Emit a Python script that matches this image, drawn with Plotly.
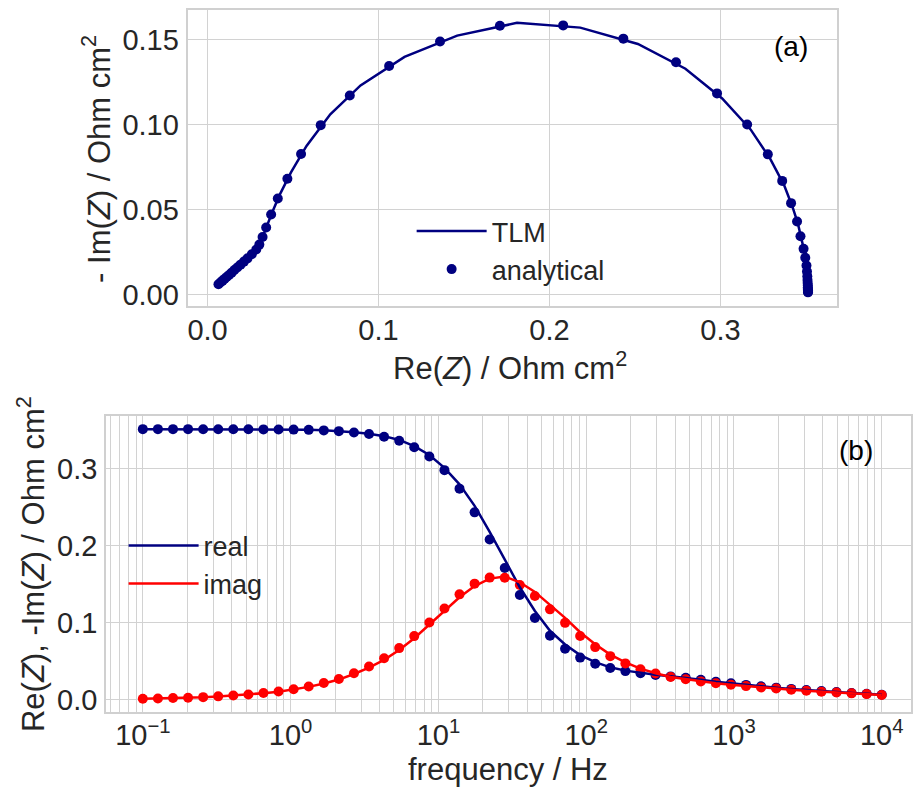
import plotly.graph_objects as go

# ---------------- data ----------------
freq = [0.1, 0.1265, 0.16, 0.2024, 0.256, 0.3237, 0.4095, 0.518, 0.6551, 0.8286,
        1.048, 1.326, 1.677, 2.121, 2.683, 3.393, 4.292, 5.429, 6.866, 8.685,
        10.99, 13.90, 17.58, 22.23, 28.12, 35.56, 44.98, 56.90, 71.97, 91.03,
        115.1, 145.6, 184.2, 233.0, 294.7, 372.8, 471.5, 596.4, 754.3, 954.1,
        1207, 1526, 1931, 2442, 3089, 3907, 4942, 6251, 7906, 10000]

# analytical solution (markers)
re_analytical = [0.3512, 0.3512, 0.3512, 0.3512, 0.3511, 0.3511, 0.3511, 0.3510, 0.3509, 0.3508,
                 0.3506, 0.3503, 0.3496, 0.3486, 0.3468, 0.3448, 0.3413, 0.3361, 0.3277, 0.3156,
                 0.2980, 0.2740, 0.2432, 0.2080, 0.1710, 0.1360, 0.1062, 0.0832, 0.0662, 0.0547,
                 0.0467, 0.0411, 0.0372, 0.0343, 0.0322, 0.0303, 0.0285, 0.0259, 0.0234, 0.0213,
                 0.0193, 0.0174, 0.0157, 0.0141, 0.0126, 0.0112, 0.0099, 0.0088, 0.0077, 0.0064]
im_analytical = [0.0014, 0.0017, 0.0022, 0.0027, 0.0034, 0.0044, 0.0055, 0.0069, 0.0087, 0.0108,
                 0.0137, 0.0172, 0.0218, 0.0270, 0.0344, 0.0431, 0.0539, 0.0670, 0.0826, 0.1002,
                 0.1185, 0.1368, 0.1507, 0.1585, 0.1583, 0.1490, 0.1346, 0.1173, 0.0998, 0.0828,
                 0.0683, 0.0566, 0.0472, 0.0396, 0.0340, 0.0295, 0.0266, 0.0238, 0.0214, 0.0195,
                 0.0177, 0.0160, 0.0145, 0.0130, 0.0116, 0.0104, 0.0093, 0.0083, 0.0073, 0.0062]

# TLM solution (lines)
re_tlm = [0.3512, 0.3512, 0.3512, 0.3512, 0.3511, 0.3511, 0.3511, 0.3510, 0.3509, 0.3508,
          0.3507, 0.3504, 0.3498, 0.3489, 0.3472, 0.3453, 0.3421, 0.3372, 0.3292, 0.3176,
          0.3010, 0.2795, 0.2517, 0.2180, 0.1810, 0.1460, 0.1152, 0.0895, 0.0718, 0.0579,
          0.0488, 0.0421, 0.0378, 0.0347, 0.0325, 0.0305, 0.0286, 0.0259, 0.0234, 0.0213,
          0.0193, 0.0174, 0.0157, 0.0141, 0.0126, 0.0112, 0.0099, 0.0088, 0.0077, 0.0064]
im_tlm = [0.0014, 0.0017, 0.0021, 0.0026, 0.0033, 0.0043, 0.0054, 0.0067, 0.0085, 0.0105,
          0.0133, 0.0167, 0.0211, 0.0262, 0.0334, 0.0418, 0.0518, 0.0645, 0.0798, 0.0973,
          0.1155, 0.1330, 0.1476, 0.1572, 0.1600, 0.1525, 0.1400, 0.1232, 0.1062, 0.0876,
          0.0720, 0.0586, 0.0484, 0.0404, 0.0344, 0.0296, 0.0266, 0.0238, 0.0214, 0.0195,
          0.0177, 0.0160, 0.0145, 0.0130, 0.0116, 0.0104, 0.0093, 0.0083, 0.0073, 0.0062]

x_ticks_a = [0.0, 0.1, 0.2, 0.3]
y_ticks_a = [0.00, 0.05, 0.10, 0.15]
y_ticks_b = [0.0, 0.1, 0.2, 0.3]
decades = [-1, 0, 1, 2, 3, 4]

# ---------------- styling ----------------
FONT = "Liberation Sans, Arial, sans-serif"
TXT = "#262626"
NAVY = "#000080"
RED = "#ff0000"
GRID = "#d2d2d2"
FS = 29
TFS = 31
LW = 2.5
MS = 10

fig = go.Figure()

# (a) Nyquist plot
fig.add_trace(go.Scatter(x=re_tlm, y=im_tlm, mode="lines", name="TLM",
                         line=dict(color=NAVY, width=LW), xaxis="x", yaxis="y",
                         legend="legend"))
fig.add_trace(go.Scatter(x=re_analytical, y=im_analytical, mode="markers", name="analytical",
                         marker=dict(color=NAVY, size=MS), xaxis="x", yaxis="y",
                         legend="legend"))

# (b) frequency plot
fig.add_trace(go.Scatter(x=freq, y=re_analytical, mode="markers", showlegend=False,
                         marker=dict(color=NAVY, size=MS), xaxis="x2", yaxis="y2"))
fig.add_trace(go.Scatter(x=freq, y=im_analytical, mode="markers", showlegend=False,
                         marker=dict(color=RED, size=MS), xaxis="x2", yaxis="y2"))
fig.add_trace(go.Scatter(x=freq, y=re_tlm, mode="lines", name="real",
                         line=dict(color=NAVY, width=LW), xaxis="x2", yaxis="y2",
                         legend="legend2"))
fig.add_trace(go.Scatter(x=freq, y=im_tlm, mode="lines", name="imag",
                         line=dict(color=RED, width=LW), xaxis="x2", yaxis="y2",
                         legend="legend2"))

# log-axis ticks with minor grid lines
log_tickvals, log_ticktext = [], []
for d in [-2] + decades:
    for k in range(1, 10):
        v = k * 10.0 ** d
        if 0.055 <= v <= 15800:
            log_tickvals.append(v)
            if k == 1:
                sup = str(d).replace("-", "\u2212")
                log_ticktext.append("10<sup>%s</sup>" % sup)
            else:
                log_ticktext.append("")

W, H = 913, 792
def px(x):
    return x / W
def py(y):
    return 1 - y / H

axis_common = dict(showline=True, mirror=True, linecolor="#d0d0d0", linewidth=1.5,
                   showgrid=True, gridcolor=GRID, gridwidth=1, zeroline=False,
                   ticks="", tickfont=dict(family=FONT, size=FS, color=TXT))

def ann(text, x, y, size, angle=0, color=TXT):
    return dict(text=text, x=px(x), y=py(y), xref="paper", yref="paper",
                xanchor="center", yanchor="middle", showarrow=False, textangle=angle,
                font=dict(family=FONT, size=size, color=color))

fig.update_layout(
    width=W, height=H, margin=dict(l=0, r=0, t=0, b=0),
    paper_bgcolor="white", plot_bgcolor="white",
    font=dict(family=FONT, size=FS, color=TXT),
    xaxis=dict(domain=[px(188), px(839)], range=[-0.0112, 0.3683], anchor="y",
               tickvals=x_ticks_a, tickformat=".1f", ticklabelstandoff=-3, **axis_common),
    yaxis=dict(domain=[py(308), py(10)], range=[-0.0069, 0.1676], anchor="x",
               tickvals=y_ticks_a, tickformat=".2f", ticklabelstandoff=2, **axis_common),
    xaxis2=dict(domain=[px(105.3), 1.0], type="log", range=[-1.2495, 4.198], anchor="y2",
                tickvals=log_tickvals, ticktext=log_ticktext, ticklabelstandoff=-4,
                **axis_common),
    yaxis2=dict(domain=[py(716), py(417.7)], range=[-0.0164, 0.3688], anchor="x2",
                tickvals=y_ticks_b, tickformat=".1f", ticklabelstandoff=1, **axis_common),
    legend=dict(x=px(412), y=py(208), xanchor="left", yanchor="top",
                bgcolor="rgba(0,0,0,0)", itemwidth=70,
                font=dict(family=FONT, size=27, color=TXT)),
    legend2=dict(x=px(123), y=py(524), xanchor="left", yanchor="top",
                 bgcolor="rgba(0,0,0,0)", itemwidth=70,
                 font=dict(family=FONT, size=27, color=TXT)),
    annotations=[
        ann("(a)", 792.7, 46.7, 28, color="black"),
        ann("(b)", 858, 453, 28, color="black"),
        ann("Re(<i>Z</i>) / Ohm cm<sup>2</sup>", 511, 368, TFS),
        ann("- Im(<i>Z</i>) / Ohm cm<sup>2</sup>", 96, 160, TFS, angle=-90),
        ann("frequency / Hz", 509, 773, TFS),
        ann("Re(<i>Z</i>), -Im(<i>Z</i>) / Ohm cm<sup>2</sup>", 30, 567, TFS, angle=-90),
    ],
)

fig.write_html("out.html")
